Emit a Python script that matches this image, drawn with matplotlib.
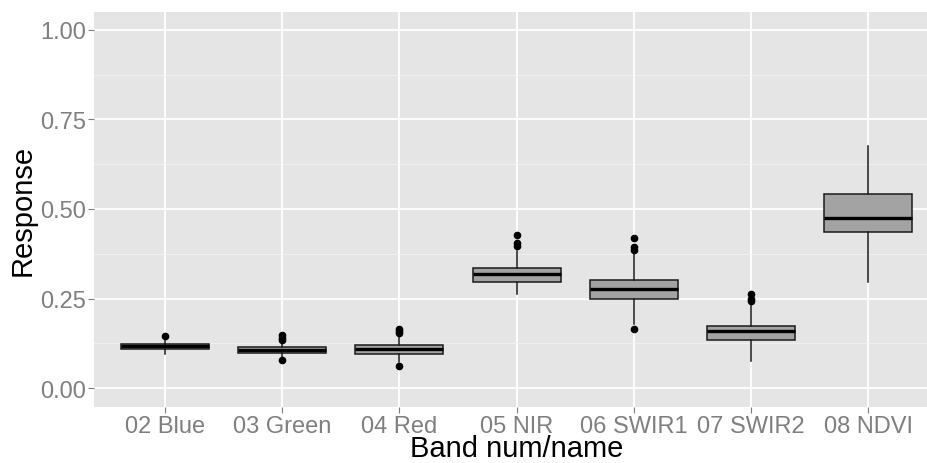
import matplotlib
matplotlib.use("Agg")
import matplotlib.pyplot as plt

plt.rcParams['font.family'] = ['Liberation Sans', 'DejaVu Sans']

# Band summary statistics
bands = ["02 Blue", "03 Green", "04 Red", "05 NIR", "06 SWIR1", "07 SWIR2", "08 NDVI"]
whisker_low = [0.095, 0.086, 0.072, 0.264, 0.178, 0.075, 0.297]
q1 = [0.109, 0.098, 0.097, 0.296, 0.250, 0.134, 0.437]
median = [0.117, 0.106, 0.109, 0.318, 0.276, 0.159, 0.476]
q3 = [0.124, 0.114, 0.121, 0.336, 0.303, 0.175, 0.543]
whisker_high = [0.138, 0.132, 0.150, 0.382, 0.376, 0.236, 0.677]
outliers = [
    [0.145],
    [0.078, 0.134, 0.140, 0.148],
    [0.061, 0.155, 0.160, 0.165],
    [0.398, 0.405, 0.427],
    [0.165, 0.385, 0.395, 0.418],
    [0.243, 0.250, 0.264],
    [],
]

stats = []
for i, name in enumerate(bands):
    stats.append(dict(label=name, whislo=whisker_low[i], q1=q1[i], med=median[i],
                      q3=q3[i], whishi=whisker_high[i], fliers=outliers[i]))

fig = plt.figure(figsize=(9.28, 4.64), dpi=100)
ax = fig.add_axes([94 / 928, (464 - 407.7) / 464, (927.5 - 94) / 928, (407.7 - 13.3) / 464])
ax.set_facecolor('#E5E5E5')

positions = list(range(1, len(bands) + 1))
ax.bxp(stats, positions=positions, widths=0.75, patch_artist=True, showcaps=False,
       boxprops=dict(facecolor='#A3A3A3', edgecolor='#1A1A1A', linewidth=1.1),
       medianprops=dict(color='black', linewidth=2.4),
       whiskerprops=dict(color='#1A1A1A', linewidth=1.1),
       flierprops=dict(marker='o', markerfacecolor='black', markeredgecolor='black',
                       markersize=4.5, linestyle='none'),
       zorder=3)

ax.set_xlim(0.395, 7.505)
ax.set_ylim(-0.0513, 1.0485)
ax.set_xticks(positions)
ax.set_xticklabels(bands)
ax.set_yticks([0, 0.25, 0.5, 0.75, 1.0])
ax.set_yticklabels(["0.00", "0.25", "0.50", "0.75", "1.00"])
ax.set_yticks([0.125, 0.375, 0.625, 0.875], minor=True)

ax.grid(which='major', color='white', linewidth=1.3, zorder=0)
ax.grid(which='minor', axis='y', color='#F2F2F2', linewidth=0.6, zorder=0)
ax.set_axisbelow(True)
for s in ax.spines.values():
    s.set_visible(False)

ax.tick_params(axis='both', which='major', length=4, width=0.8, color='#7F7F7F',
               labelcolor='#7F7F7F', labelsize=17, pad=2)
ax.tick_params(axis='y', which='minor', length=0)

ax.set_xlabel("Band num/name", fontsize=21, color='black')
ax.set_ylabel("Response", fontsize=21, color='black')
ax.xaxis.set_label_coords(0.507, -0.104, transform=ax.transAxes)
ax.xaxis.label.set_va('center')
ax.yaxis.set_label_coords(-0.0855, 0.5, transform=ax.transAxes)
ax.yaxis.label.set_va('center')

fig.savefig("out.png", dpi=100)
